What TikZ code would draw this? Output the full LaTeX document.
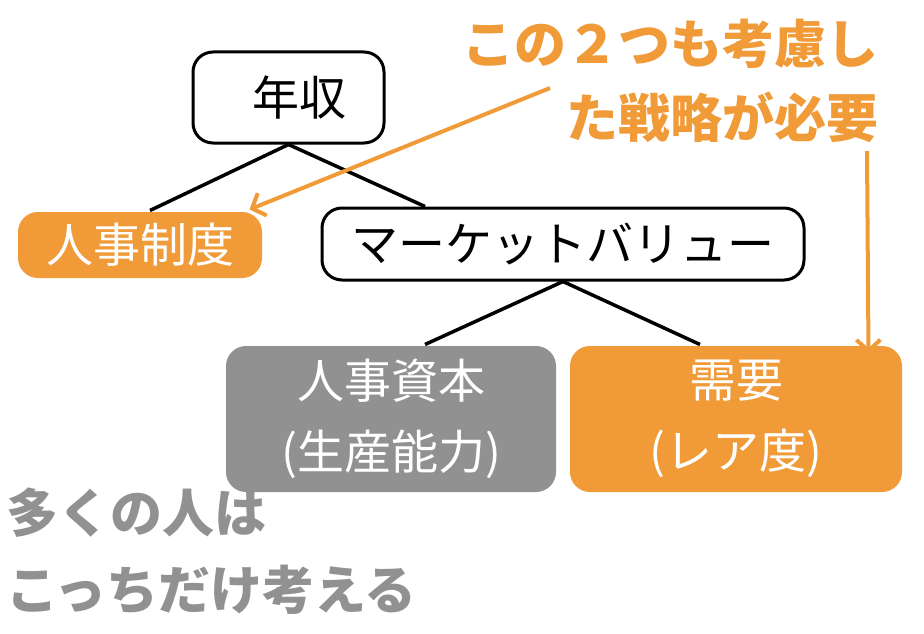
\documentclass[tikz,border=0pt]{standalone}
\usepackage{fontspec}
\setmainfont{Noto Sans CJK JP}
\usetikzlibrary{arrows.meta}
\definecolor{org}{HTML}{F09A38}
\definecolor{gry}{HTML}{919191}
\tikzset{
  box/.style={rounded corners=20pt, line width=3pt, inner sep=0pt, font=\fontsize{47}{55}\selectfont},
  wbox/.style={box, draw=black, fill=white, text=black},
  obox/.style={box, fill=org, text=white},
  gbox/.style={box, fill=gry, text=white},
  link/.style={line width=3.5pt, black},
  oarrow/.style={line width=4pt, org, -{Straight Barb[length=11pt,width=24pt,line width=4pt]}},
  note/.style={font=\fontsize{52}{60}\selectfont\bfseries, inner sep=0pt},
}
\begin{document}
\begin{tikzpicture}[x=1pt,y=-1pt]
\useasboundingbox (0,0) rectangle (924,634);
\node[wbox, minimum width=191pt, minimum height=91pt] (nen) at (288.5,97.5) {\hspace*{22pt}年収};
\node[obox, minimum width=244pt, minimum height=66pt] (jin) at (140,245) {人事制度};
\node[wbox, minimum width=482pt, minimum height=72pt] (mkt) at (563,244) {マーケットバリュー};
\node[gbox, minimum width=330pt, minimum height=146pt, align=center] (shi) at (391,419) {人事資本\\[16pt](生産能力)};
\node[obox, minimum width=332pt, minimum height=146pt, align=center] (juy) at (736,419) {需要\\[16pt](レア度)};

\draw[link] (nen.south) -- ([xshift=10pt]jin.north);
\draw[link] (nen.south) -- ([xshift=-138pt]mkt.north);
\draw[link] (mkt.south) -- ([xshift=34pt]shi.north);
\draw[link] (mkt.south) -- ([xshift=-36pt]juy.north);

\node[note, text=org, anchor=base east] (n1) at (879,64) {この２つも考慮し};
\node[note, text=org, anchor=base east] (n2) at (879,137) {た戦略が必要};
\node[note, text=gry, anchor=base west] (g1) at (6,532) {多くの人は};
\node[note, text=gry, anchor=base west] (g2) at (6,609) {こっちだけ考える};

\coordinate (a1) at (550,88);
\coordinate (a2) at (867,151);
\draw[oarrow] (a1) -- ([xshift=-14pt,yshift=1pt]jin.north east);
\draw[oarrow] (a2) -- ([xshift=-35pt,yshift=-9pt]juy.north east);
\end{tikzpicture}
\end{document}
